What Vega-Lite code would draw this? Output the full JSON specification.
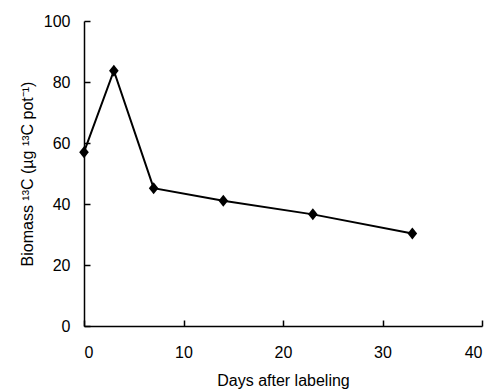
{
  "$schema": "https://vega.github.io/schema/vega-lite/v6.json",
  "width": 398,
  "height": 305,
  "autosize": "none",
  "padding": {"left": 84, "top": 21, "right": 12, "bottom": 66},
  "background": "white",
  "config": {
    "view": {"stroke": null},
    "font": "Liberation Sans",
    "axis": {
      "grid": false,
      "domainColor": "black",
      "domainWidth": 1.5,
      "tickColor": "black",
      "tickWidth": 1.5,
      "tickSize": -6,
      "labelColor": "black",
      "labelFont": "Liberation Sans",
      "labelFontSize": 16,
      "titleColor": "black",
      "titleFont": "Liberation Sans",
      "titleFontSize": 16,
      "titleFontWeight": "normal"
    }
  },
  "data": {
    "values": [
      {"day": 0, "biomass": 57.0},
      {"day": 3, "biomass": 83.7},
      {"day": 7, "biomass": 45.2},
      {"day": 14, "biomass": 41.1},
      {"day": 23, "biomass": 36.6},
      {"day": 33, "biomass": 30.3}
    ]
  },
  "encoding": {
    "x": {
      "field": "day",
      "type": "quantitative",
      "scale": {"domain": [0, 40], "nice": false},
      "axis": {"values": [0, 10, 20, 30, 40], "title": "Days after labeling", "labelPadding": 24, "titlePadding": 12}
    },
    "y": {
      "field": "biomass",
      "type": "quantitative",
      "scale": {"domain": [0, 100], "nice": false},
      "axis": {"values": [0, 20, 40, 60, 80, 100], "title": "Biomass ¹³C (µg ¹³C pot⁻¹)", "labelPadding": 20, "titlePadding": 8}
    }
  },
  "layer": [
    {"mark": {"type": "line", "color": "black", "strokeWidth": 2}},
    {"mark": {"type": "point", "shape": "M-0.8,0L0,-1L0.8,0L0,1Z", "filled": true, "color": "black", "opacity": 1, "size": 144}}
  ]
}
